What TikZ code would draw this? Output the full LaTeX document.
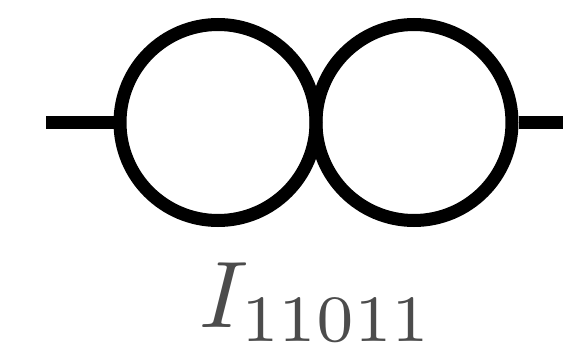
\documentclass[tikz,border=0pt]{standalone}
\begin{document}
\begin{tikzpicture}[x=1pt,y=1pt,
  ring/.style={circle,draw=black,line width=13pt,minimum size=196pt,inner sep=0pt},
  wire/.style={line width=13pt,draw=black},
  lbl/.style={text=black!70,inner sep=0pt,anchor=base}]
\useasboundingbox (0,0) rectangle (563,343);
\node[ring] (c1) at (218,220.5) {};
\node[ring] (c2) at (414,220.5) {};
\coordinate (a) at (46,220.5);
\coordinate (b) at (563,220.5);
\draw[wire] (a) -- (c1.west);
\draw[wire] (c2.east) -- (b);
\node[lbl] (t) at (317,15.7) {\scalebox{9.46}{$I_{11011}$}};
\end{tikzpicture}
\end{document}
